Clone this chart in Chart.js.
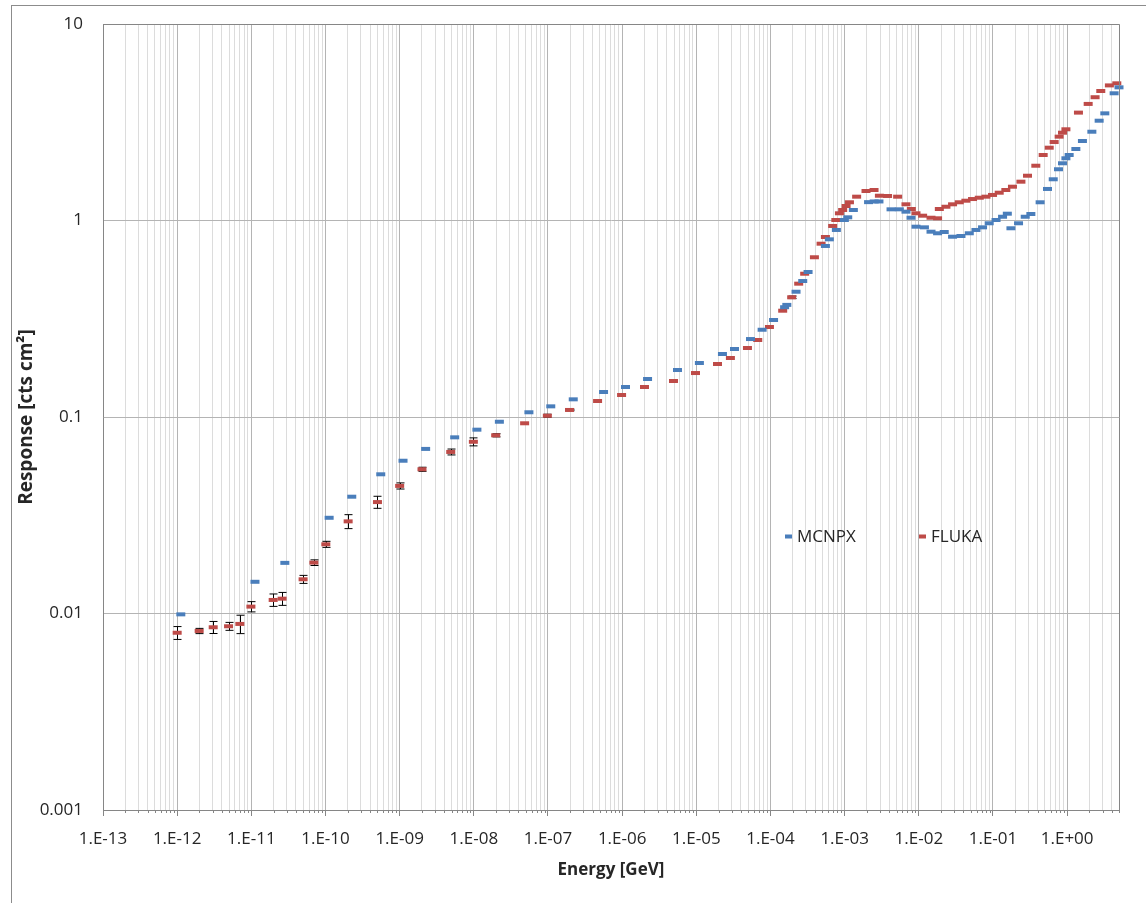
<!DOCTYPE html>
<html>
<head>
<meta charset="utf-8">
<script src="https://cdn.jsdelivr.net/npm/chart.js@4.4.1/dist/chart.umd.min.js"></script>
<style>
  body { margin: 0; background: #fff; }
  #frame { position: absolute; left: 11px; top: 5px; width: 1135px; height: 898px;
           border-left: 1px solid #8c8c8c; border-top: 1px solid #8c8c8c; }
  #responseChart { position: absolute; left: 0; top: 0; }
</style>
</head>
<body>
<div id="frame"></div>
<canvas id="responseChart" width="1146" height="903"></canvas>
<script>
// --- Datos ---
const mcnpxEnergy = [1.12e-12, 1.12e-11, 2.83e-11, 1.12e-10, 2.26e-10, 5.56e-10, 1.11e-9, 2.24e-9, 5.52e-9,
  1.10e-8, 2.21e-8, 5.53e-8, 1.09e-7, 2.19e-7, 5.61e-7, 1.11e-6, 2.2e-6, 5.57e-6, 1.10e-5, 2.25e-5, 3.27e-5,
  5.37e-5, 7.71e-5, 1.10e-4, 1.55e-4, 1.66e-4, 2.21e-4, 2.72e-4, 3.21e-4, 5.5e-4, 6.22e-4, 7.73e-4, 9.91e-4,
  1.10e-3, 1.31e-3, 2.1e-3, 2.5e-3, 2.9e-3, 4.22e-3, 5.46e-3, 6.71e-3, 7.85e-3, 9.16e-3, 1.19e-2, 1.46e-2,
  1.79e-2, 2.2e-2, 2.85e-2, 3.70e-2, 4.79e-2, 5.89e-2, 7.23e-2, 8.89e-2, 0.110, 0.1346, 0.156, 0.1746, 0.221,
  0.272, 0.324, 0.432, 0.543, 0.649, 0.764, 0.865, 0.962, 1.064, 1.31, 1.607, 2.153, 2.70, 3.22, 4.30, 5.0];
const mcnpxResponse = [0.0099, 0.0145, 0.0181, 0.0307, 0.0393, 0.0511, 0.0599, 0.0688, 0.0788,
  0.0862, 0.0946, 0.1057, 0.1133, 0.123, 0.134, 0.1421, 0.1561, 0.1734, 0.1883, 0.2092, 0.2219,
  0.2493, 0.278, 0.3116, 0.362, 0.372, 0.434, 0.492, 0.547, 0.742, 0.802, 0.895, 1.006,
  1.038, 1.131, 1.24, 1.25, 1.25, 1.14, 1.14, 1.109, 1.033, 0.930, 0.923, 0.877,
  0.861, 0.874, 0.827, 0.834, 0.861, 0.895, 0.923, 0.968, 1.006, 1.045, 1.083, 0.913, 0.968,
  1.045, 1.079, 1.238, 1.447, 1.621, 1.823, 1.955, 2.073, 2.154, 2.311, 2.538, 2.83, 3.22, 3.51, 4.44, 4.76];

const flukaEnergy = [1.0e-12, 1.98e-12, 3.06e-12, 4.93e-12, 7.0e-12, 9.87e-12, 1.97e-11, 2.6e-11, 4.99e-11,
  6.97e-11, 1.01e-10, 2.02e-10, 5.02e-10, 1.0e-9, 2.0e-9, 4.88e-9, 9.86e-9, 1.97e-8, 4.84e-8, 9.8e-8,
  1.95e-7, 4.66e-7, 9.82e-7, 2.0e-6, 4.92e-6, 9.75e-6, 1.93e-5, 2.88e-5, 4.89e-5, 6.73e-5, 9.68e-5,
  1.46e-4, 1.93e-4, 2.40e-4, 2.89e-4, 3.91e-4, 4.81e-4, 5.5e-4, 6.89e-4, 7.6e-4, 8.5e-4, 9.4e-4,
  1.045e-3, 1.16e-3, 1.45e-3, 1.94e-3, 2.49e-3, 2.94e-3, 3.79e-3, 5.18e-3, 6.71e-3, 7.93e-3, 9.16e-3,
  1.125e-2, 1.46e-2, 1.79e-2, 1.89e-2, 2.32e-2, 2.85e-2, 3.51e-2, 4.31e-2, 5.3e-2, 6.53e-2, 8.04e-2,
  9.86e-2, 0.1213, 0.149, 0.183, 0.238, 0.292, 0.378, 0.475, 0.573, 0.668, 0.780, 0.865, 0.962,
  1.42, 1.92, 2.38, 2.84, 3.71, 4.67];
const flukaResponse = [0.00798, 0.00815, 0.00851, 0.00861, 0.00885, 0.01084, 0.01172, 0.0119, 0.01493,
  0.01815, 0.0225, 0.02944, 0.0369, 0.0446, 0.0542, 0.0664, 0.0748, 0.0807, 0.0929, 0.1015,
  0.1086, 0.1206, 0.1294, 0.1421, 0.1525, 0.1674, 0.1861, 0.1997, 0.2245, 0.2465, 0.2871,
  0.3475, 0.4066, 0.477, 0.536, 0.650, 0.762, 0.824, 0.938, 1.006, 1.088, 1.131,
  1.185, 1.238, 1.322, 1.413, 1.43, 1.337, 1.333, 1.322, 1.209, 1.144, 1.088,
  1.058, 1.033, 1.026, 1.144, 1.175, 1.209, 1.238, 1.261, 1.286, 1.306, 1.322,
  1.349, 1.385, 1.43, 1.486, 1.576, 1.69, 1.90, 2.154, 2.347, 2.508, 2.671, 2.798, 2.912,
  3.54, 3.92, 4.24, 4.56, 4.87, 4.99];
// Barras de error (±) de FLUKA, 0 = no visible
const flukaError = [0.0006, 0.00025, 0.0006, 0.0004, 0.00095, 0.00065, 0.00085, 0.0009, 0.0007,
  0.0006, 0.0008, 0.0024, 0.0026, 0.0016, 0.0013, 0.0023, 0.0035, 0.0015, 0, 0.0018,
  0.001, 0, 0, 0.0015, 0, 0, 0, 0, 0, 0, 0,
  0, 0.006, 0, 0, 0, 0, 0, 0, 0, 0, 0,
  0, 0, 0, 0, 0, 0, 0, 0, 0, 0, 0,
  0, 0, 0, 0, 0, 0, 0, 0, 0, 0, 0,
  0, 0, 0, 0, 0, 0, 0, 0, 0, 0, 0, 0, 0,
  0, 0, 0, 0, 0, 0];

// Ejes
const xDecades = [-13, -12, -11, -10, -9, -8, -7, -6, -5, -4, -3, -2, -1, 0];
const xTickLabels = ['1.E-13', '1.E-12', '1.E-11', '1.E-10', '1.E-09', '1.E-08', '1.E-07',
  '1.E-06', '1.E-05', '1.E-04', '1.E-03', '1.E-02', '1.E-01', '1.E+00'];
const yTickValues = [0.001, 0.01, 0.1, 1, 10];
const yTickLabels = ['0.001', '0.01', '0.1', '1', '10'];
const seriesNames = ['MCNPX', 'FLUKA'];
const seriesColors = ['#4a7ebb', '#be4b48'];

const X_MIN = 1e-13, X_MAX = 5;
const majorGrid = '#b4b4b4';
const minorGrid = '#dcdcdc';
const axisColor = '#868686';
const textColor = '#262626';
const fontFamily = "'Open Sans', sans-serif";

// posiciones de la rejilla vertical (1..9 por década)
const xGridValues = [];
xDecades.forEach(e => {
    for (let m = 1; m <= 9; m++) {
        const v = m * Math.pow(10, e);
        if (v <= X_MAX * 1.0001) xGridValues.push(v);
    }
});

function esDecada(v) {
    const e = Math.round(Math.log10(v));
    return Math.abs(v / Math.pow(10, e) - 1) < 1e-6;
}

const toPoints = (xs, ys) => xs.map((x, i) => ({ x: x, y: ys[i] }));

// --- Plugin: barras de error, marco y leyenda ---
const extrasPlugin = {
    id: 'extras',
    beforeDatasetsDraw(chart) {
        const { ctx } = chart;
        const xs = chart.scales.x, ys = chart.scales.y;
        ctx.save();
        ctx.strokeStyle = '#000';
        ctx.lineWidth = 1;
        flukaEnergy.forEach((e, i) => {
            const err = flukaError[i];
            if (!err) return;
            const px = Math.round(xs.getPixelForValue(e)) + 0.5;
            const yTop = ys.getPixelForValue(flukaResponse[i] + err);
            const yBot = ys.getPixelForValue(flukaResponse[i] - err);
            ctx.beginPath();
            ctx.moveTo(px, yTop); ctx.lineTo(px, yBot);
            ctx.moveTo(px - 4, yTop); ctx.lineTo(px + 4, yTop);
            ctx.moveTo(px - 4, yBot); ctx.lineTo(px + 4, yBot);
            ctx.stroke();
        });
        ctx.restore();
    },
    afterDraw(chart) {
        const { ctx, chartArea: a } = chart;
        const xs = chart.scales.x;
        ctx.save();
        // marco superior y derecho del área
        ctx.strokeStyle = axisColor;
        ctx.lineWidth = 1;
        ctx.beginPath();
        ctx.moveTo(a.left, a.top + 0.5); ctx.lineTo(a.right + 0.5, a.top + 0.5);
        ctx.lineTo(a.right + 0.5, a.bottom);
        ctx.stroke();
        // marcas menores del eje x
        ctx.beginPath();
        xGridValues.forEach(v => {
            if (esDecada(v)) return;
            const px = Math.round(xs.getPixelForValue(v)) + 0.5;
            ctx.moveTo(px, a.bottom); ctx.lineTo(px, a.bottom + 3);
        });
        ctx.stroke();
        // leyenda
        const legendPos = [{ x: 788, y: 536 }, { x: 922, y: 536 }];
        ctx.font = '17px ' + fontFamily;
        ctx.textBaseline = 'middle';
        ctx.textAlign = 'left';
        seriesNames.forEach((name, i) => {
            const p = legendPos[i];
            ctx.fillStyle = seriesColors[i];
            ctx.fillRect(p.x - 3, p.y - 1.5, 7, 4);
            ctx.fillStyle = textColor;
            ctx.fillText(name, p.x + 9, p.y + 1);
        });
        ctx.restore();
    }
};

const ctx = document.getElementById('responseChart');
new Chart(ctx.getContext('2d'), {
    type: 'scatter',
    data: {
        datasets: [
            {
                label: seriesNames[0],
                data: toPoints(mcnpxEnergy, mcnpxResponse),
                borderColor: seriesColors[0],
                backgroundColor: seriesColors[0],
                pointStyle: 'line',
                pointRadius: 4.5,
                pointHoverRadius: 4.5,
                pointBorderWidth: 4,
                showLine: false,
                clip: false
            },
            {
                label: seriesNames[1],
                data: toPoints(flukaEnergy, flukaResponse),
                borderColor: seriesColors[1],
                backgroundColor: seriesColors[1],
                pointStyle: 'line',
                pointRadius: 4.5,
                pointHoverRadius: 4.5,
                pointBorderWidth: 4,
                showLine: false,
                clip: false
            }
        ]
    },
    options: {
        responsive: false,
        animation: false,
        layout: { padding: { left: 0, top: 24, right: 27, bottom: 0 } },
        plugins: {
            legend: { display: false },
            tooltip: { enabled: false }
        },
        scales: {
            x: {
                type: 'logarithmic',
                min: X_MIN,
                max: X_MAX,
                afterBuildTicks: (scale) => { scale.ticks = xGridValues.map(v => ({ value: v })); },
                afterFit: (scale) => { scale.height = 93; scale.paddingLeft = 0; scale.paddingRight = 0; },
                ticks: {
                    autoSkip: false,
                    maxRotation: 0,
                    color: textColor,
                    padding: 13,
                    font: { family: fontFamily, size: 17 },
                    callback: (value) => {
                        if (!esDecada(value)) return '';
                        const idx = xDecades.indexOf(Math.round(Math.log10(value)));
                        return xTickLabels[idx];
                    }
                },
                grid: {
                    color: (c) => (c.tick && esDecada(c.tick.value)) ? majorGrid : minorGrid,
                    tickColor: (c) => (c.tick && esDecada(c.tick.value)) ? axisColor : 'rgba(0,0,0,0)',
                    tickLength: 6
                },
                border: { color: axisColor },
                title: {
                    display: true,
                    text: 'Energy [GeV]',
                    color: textColor,
                    font: { family: fontFamily, size: 17, weight: 'bold' },
                    padding: { top: 0, bottom: 23 }
                }
            },
            y: {
                type: 'logarithmic',
                min: 0.001,
                max: 10,
                afterBuildTicks: (scale) => { scale.ticks = yTickValues.map(v => ({ value: v })); },
                afterFit: (scale) => { scale.width = 103; scale.paddingTop = 0; scale.paddingBottom = 0; },
                ticks: {
                    color: textColor,
                    padding: 20,
                    font: { family: fontFamily, size: 17 },
                    callback: (value, index) => yTickLabels[index]
                },
                grid: { color: majorGrid, drawTicks: false },
                border: { color: axisColor },
                title: {
                    display: true,
                    text: 'Response [cts cm²]',
                    color: textColor,
                    font: { family: fontFamily, size: 19, weight: 'bold' },
                    padding: { top: 15, bottom: 0 }
                }
            }
        }
    },
    plugins: [extrasPlugin]
});
</script>
</body>
</html>
